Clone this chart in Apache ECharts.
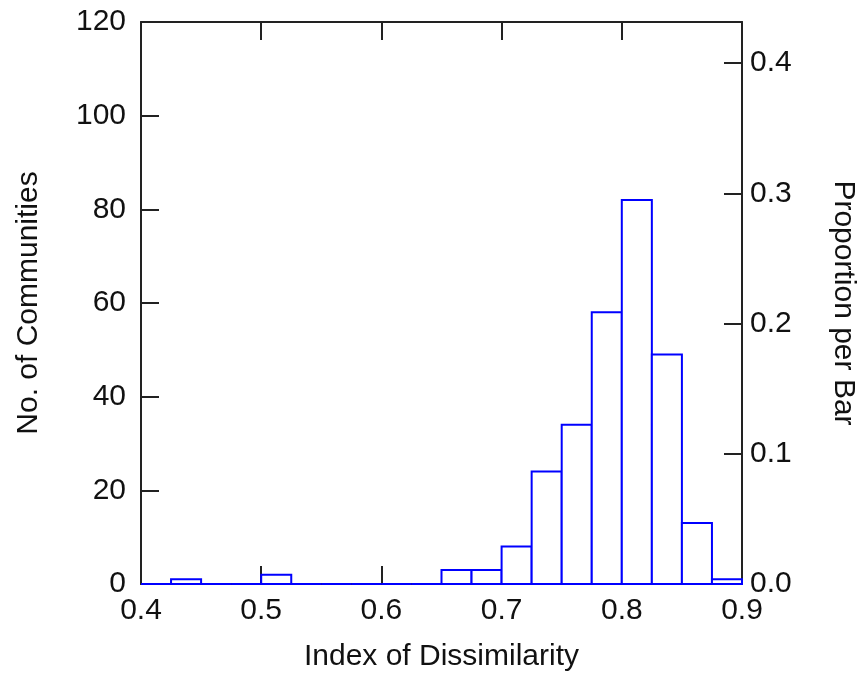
<!DOCTYPE html>
<html lang="en">
  <head>
    <meta charset="UTF-8" />
    <title>Index of Dissimilarity</title>
    <script src="https://cdn.jsdelivr.net/npm/echarts@6/dist/echarts.min.js"></script>
    <style>
      html,
      body {
        margin: 0;
        padding: 0;
        background: #fff;
      }
      #chart {
        width: 863px;
        height: 674px;
      }
    </style>
  </head>
  <body>
    <div id="chart"></div>
    <script>
      // histogram bins (left edge) and counts
      const binWidth = 0.025;
      const binStarts = [
        0.4, 0.425, 0.45, 0.475, 0.5, 0.525, 0.55, 0.575, 0.6, 0.625,
        0.65, 0.675, 0.7, 0.725, 0.75, 0.775, 0.8, 0.825, 0.85, 0.875,
      ];
      const counts = [
        0, 1, 0, 0, 2, 0, 0, 0, 0, 0,
        3, 3, 8, 24, 34, 58, 82, 49, 13, 1,
      ];
      const xTicks = [0.4, 0.5, 0.6, 0.7, 0.8, 0.9];
      const countTicks = [0, 20, 40, 60, 80, 100, 120];

      const total = counts.reduce((a, b) => a + b, 0);
      const countMax = countTicks[countTicks.length - 1];

      const font = "Liberation Sans";
      const ink = "#111";
      const axisLine = { show: true, onZero: false, lineStyle: { color: "#222", width: 2 } };
      const tick = { show: true, inside: true, length: 18, lineStyle: { color: "#222", width: 2 } };

      const chart = echarts.init(document.getElementById("chart"));
      const option = {
        animation: false,
        grid: { left: 141, right: 121, top: 22, bottom: 90, outerBoundsMode: "none", containLabel: false },
        xAxis: [
          {
            type: "value",
            min: xTicks[0],
            max: xTicks[xTicks.length - 1],
            interval: 0.1,
            name: "Index of Dissimilarity",
            nameLocation: "middle",
            nameGap: 58,
            nameTextStyle: { fontFamily: font, fontSize: 30, color: ink },
            axisLine: axisLine,
            axisTick: tick,
            splitLine: { show: false },
            axisLabel: {
              fontFamily: font,
              fontSize: 30,
              color: ink,
              margin: 12,
              formatter: (v) => v.toFixed(1),
            },
          },
          {
            type: "value",
            position: "top",
            min: xTicks[0],
            max: xTicks[xTicks.length - 1],
            interval: 0.1,
            axisLine: axisLine,
            axisTick: tick,
            axisLabel: { show: false },
            splitLine: { show: false },
          },
        ],
        yAxis: [
          {
            type: "value",
            min: 0,
            max: countMax,
            interval: 20,
            name: "No. of Communities",
            nameLocation: "middle",
            nameGap: 97,
            nameTextStyle: { fontFamily: font, fontSize: 30, color: ink },
            axisLine: axisLine,
            axisTick: tick,
            splitLine: { show: false },
            axisLabel: { fontFamily: font, fontSize: 30, color: ink, margin: 15 },
          },
          {
            type: "value",
            position: "right",
            min: 0,
            max: countMax / total,
            interval: 0.1,
            name: "Proportion per Bar",
            nameLocation: "middle",
            nameGap: 86,
            nameRotate: -90,
            nameTextStyle: { fontFamily: font, fontSize: 30, color: ink },
            axisLine: axisLine,
            axisTick: tick,
            splitLine: { show: false },
            axisLabel: {
              fontFamily: font,
              fontSize: 30,
              color: ink,
              margin: 8,
              showMaxLabel: false,
              formatter: (v) => v.toFixed(1),
            },
          },
        ],
        series: [
          {
            type: "custom",
            xAxisIndex: 0,
            yAxisIndex: 0,
            data: binStarts.map((x, i) => [x, counts[i]]),
            renderItem: function (params, api) {
              const x0 = api.value(0);
              const c = api.value(1);
              const p1 = api.coord([x0, c]);
              const p2 = api.coord([x0 + binWidth, 0]);
              return {
                type: "rect",
                shape: { x: p1[0], y: p1[1], width: p2[0] - p1[0], height: p2[1] - p1[1] },
                style: { fill: "#fff", stroke: "#0000ff", lineWidth: 2 },
              };
            },
            z: 5,
          },
        ],
      };
      chart.setOption(option);
    </script>
  </body>
</html>
